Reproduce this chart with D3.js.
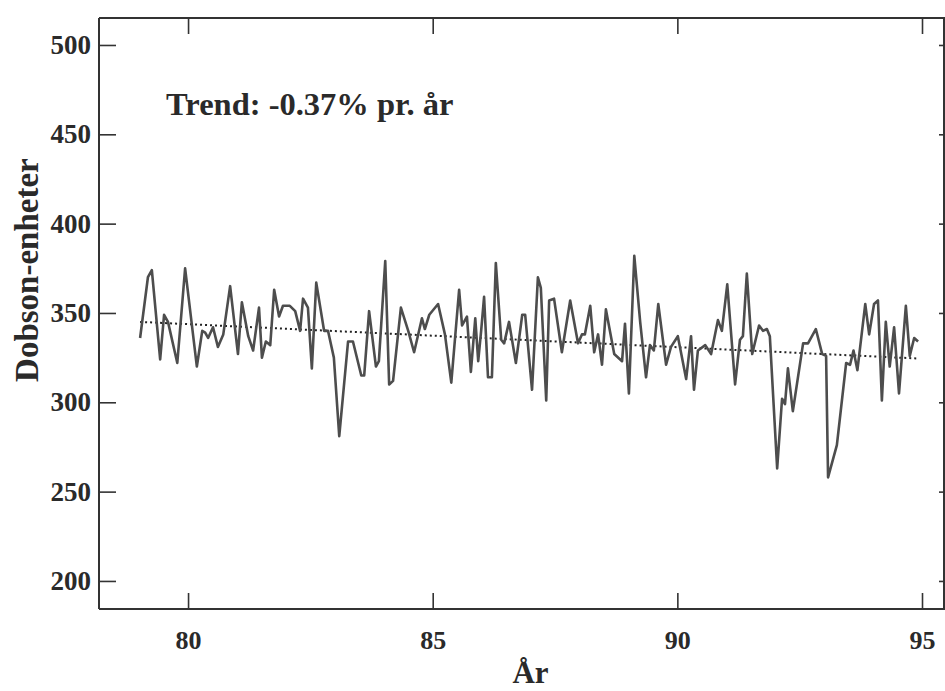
<!DOCTYPE html>
<html>
<head>
<meta charset="utf-8">
<script src="https://cdn.jsdelivr.net/npm/d3@7"></script>
<style>
  html, body { margin: 0; padding: 0; background: #fff; }
  svg { display: block; }
  text { font-family: "Liberation Serif", "DejaVu Serif", serif; font-weight: bold; fill: #2a2a2a; }
</style>
</head>
<body>
<svg id="chart" width="945" height="691"></svg>
<script>
// ---- data ----
const years = [
  79.02, 79.18, 79.26, 79.43, 79.51, 79.59, 79.78, 79.94, 80.18, 80.29,
  80.35, 80.41, 80.51, 80.61, 80.72, 80.86, 81.02, 81.10, 81.23, 81.33,
  81.45, 81.51, 81.59, 81.68, 81.76, 81.86, 81.94, 82.08, 82.19, 82.29,
  82.35, 82.45, 82.53, 82.62, 82.78, 82.86, 82.98, 83.09, 83.27, 83.37,
  83.54, 83.60, 83.70, 83.84, 83.90, 84.03, 84.11, 84.19, 84.35, 84.50,
  84.62, 84.78, 84.84, 84.93, 85.11, 85.25, 85.38, 85.54, 85.60, 85.70,
  85.78, 85.87, 85.93, 85.99, 86.05, 86.13, 86.21, 86.29, 86.40, 86.46,
  86.56, 86.70, 86.83, 86.89, 87.03, 87.15, 87.21, 87.32, 87.38, 87.48,
  87.64, 87.81, 87.97, 88.05, 88.11, 88.22, 88.30, 88.38, 88.46, 88.54,
  88.71, 88.87, 88.93, 89.01, 89.12, 89.24, 89.36, 89.44, 89.52, 89.61,
  89.77, 89.87, 90.01, 90.18, 90.28, 90.34, 90.42, 90.57, 90.69, 90.83,
  90.91, 91.02, 91.18, 91.28, 91.34, 91.42, 91.53, 91.67, 91.75, 91.83,
  91.89, 92.04, 92.14, 92.20, 92.26, 92.36, 92.57, 92.67, 92.83, 92.96,
  93.04, 93.08, 93.26, 93.45, 93.53, 93.60, 93.68, 93.84, 93.92, 94.02,
  94.10, 94.18, 94.26, 94.34, 94.43, 94.53, 94.67, 94.75, 94.84, 94.92
];
const ozone = [
  336, 370, 374, 324, 349, 345, 322, 375, 320, 340,
  339, 336, 342, 331, 338, 365, 327, 356, 337, 329,
  353, 325, 334, 332, 363, 348, 354, 354, 351, 340,
  358, 353, 319, 367, 340, 340, 325, 281, 334, 334,
  315, 315, 351, 320, 323, 379, 310, 312, 353, 340,
  328, 347, 341, 349, 355, 338, 311, 363, 343, 348,
  317, 347, 323, 340, 359, 314, 314, 378, 335, 333,
  345, 322, 349, 349, 307, 370, 364, 301, 357, 358,
  328, 357, 333, 338, 338, 354, 328, 338, 321, 352,
  327, 323, 344, 305, 382, 345, 314, 332, 329, 355,
  321, 331, 337, 313, 337, 307, 329, 332, 327, 346,
  340, 366, 310, 335, 337, 372, 327, 343, 340, 341,
  337, 263, 302, 299, 319, 295, 333, 333, 341, 327,
  326, 258, 276, 322, 321, 329, 318, 355, 338, 355,
  357, 301, 345, 320, 342, 305, 354, 326, 336, 334
];
const trendYears = [79.02, 94.92];
const trendValues = [345, 324.5];
const xTicks = [80, 85, 90, 95];
const yTicks = [200, 250, 300, 350, 400, 450, 500];
const trendLabel = "Trend: -0.37% pr. år";
const xTitle = "År";
const yTitle = "Dobson-enheter";

// ---- drawing ----
const svg = d3.select("#chart");
const x = d3.scaleLinear().domain([78.18, 95.47]).range([99, 945]);
const y = d3.scaleLinear().domain([184.3, 515.1]).range([609, 18]);
const axisColor = "#333";

// frame
const frame = svg.append("g");
frame.append("line").attr("x1", x.range()[0]).attr("x2", x.range()[1])
  .attr("y1", y.range()[0]).attr("y2", y.range()[0]);
frame.append("line").attr("x1", x.range()[0]).attr("x2", x.range()[1])
  .attr("y1", y.range()[1]).attr("y2", y.range()[1]);
frame.append("line").attr("x1", x.range()[0]).attr("x2", x.range()[0])
  .attr("y1", y.range()[0]).attr("y2", y.range()[1]);
frame.append("line").attr("x1", x.range()[1] - 1).attr("x2", x.range()[1] - 1)
  .attr("y1", y.range()[0]).attr("y2", y.range()[1]);
frame.selectAll("line").attr("stroke", axisColor).attr("stroke-width", 2);

// axes
const gBottom = svg.append("g").attr("transform", `translate(0,${y.range()[0]})`)
  .call(d3.axisBottom(x).tickValues(xTicks).tickSize(-16).tickPadding(22).tickFormat(d3.format("d")));
const gTop = svg.append("g").attr("transform", `translate(0,${y.range()[1]})`)
  .call(d3.axisTop(x).tickValues(xTicks).tickSize(-16).tickFormat(""));
const gLeft = svg.append("g").attr("transform", `translate(${x.range()[0]},0)`)
  .call(d3.axisLeft(y).tickValues(yTicks).tickSize(-17).tickPadding(8).tickFormat(d3.format("d")));
const gRight = svg.append("g").attr("transform", `translate(${x.range()[1]},0)`)
  .call(d3.axisRight(y).tickValues(yTicks).tickSize(-6).tickFormat(""));
[gBottom, gTop, gLeft, gRight].forEach(g => {
  g.select(".domain").remove();
  g.selectAll(".tick line").attr("stroke", axisColor).attr("stroke-width", 1.6);
});
gBottom.selectAll(".tick text").attr("font-size", 26).attr("fill", "#2a2a2a")
  .attr("font-family", "Liberation Serif").attr("font-weight", "bold");
gLeft.selectAll(".tick text").attr("font-size", 27).attr("fill", "#2a2a2a")
  .attr("font-family", "Liberation Serif").attr("font-weight", "bold");

// trend (dotted)
const line = d3.line().x(d => x(d[0])).y(d => y(d[1]));
svg.append("path")
  .datum(trendYears.map((t, i) => [t, trendValues[i]]))
  .attr("d", line).attr("fill", "none")
  .attr("stroke", "#222").attr("stroke-width", 2).attr("stroke-dasharray", "2,3");

// data line
svg.append("path")
  .datum(years.map((t, i) => [t, ozone[i]]))
  .attr("d", line).attr("fill", "none")
  .attr("stroke", "#4d4d4d").attr("stroke-width", 2.6).attr("stroke-linejoin", "round");

// annotation
svg.append("text").attr("x", x(79.55)).attr("y", y(460.7))
  .attr("font-size", 32.5).text(trendLabel);

// titles
svg.append("text").attr("x", x(87)).attr("y", 683).attr("text-anchor", "middle")
  .attr("font-size", 31).text(xTitle);
svg.append("text").attr("transform", `translate(38,${y(374)}) rotate(-90)`)
  .attr("text-anchor", "middle").attr("font-size", 33).text(yTitle);
</script>
</body>
</html>
